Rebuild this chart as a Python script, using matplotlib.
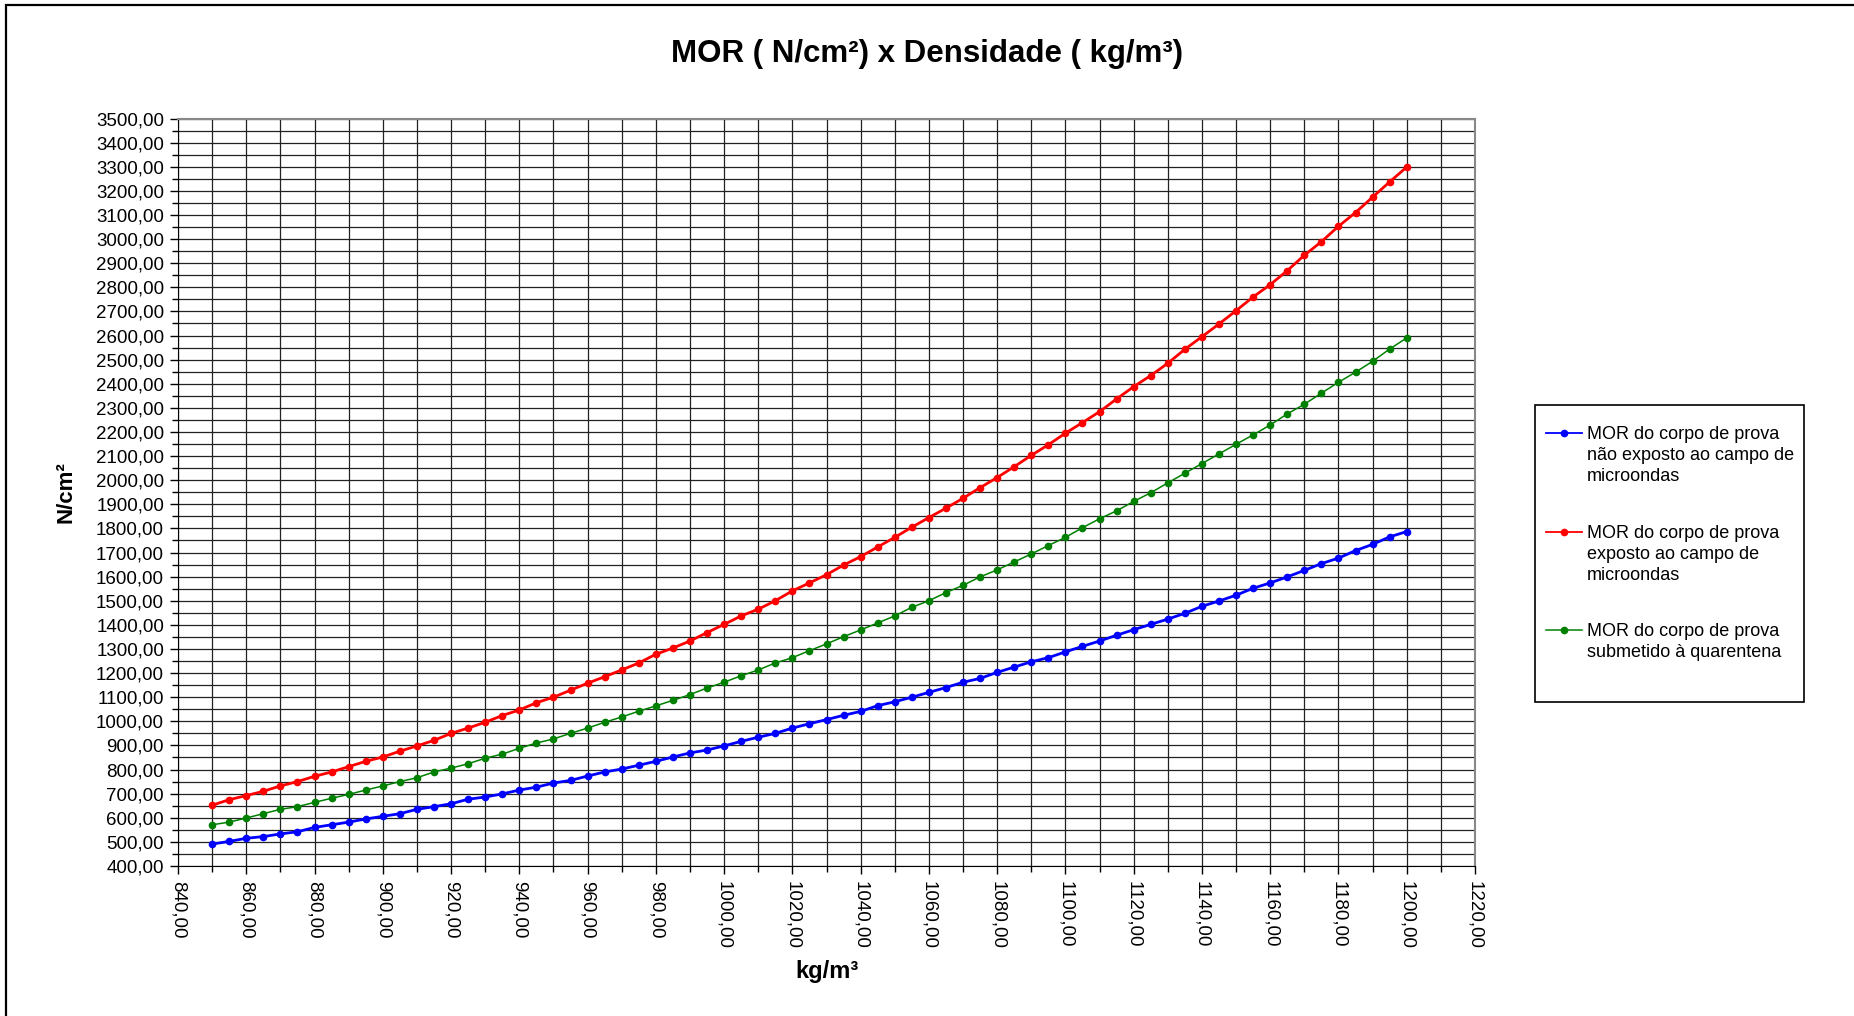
import matplotlib
matplotlib.use("Agg")
import matplotlib.pyplot as plt
from matplotlib.patches import Rectangle
from matplotlib.lines import Line2D
from matplotlib.ticker import MultipleLocator, FuncFormatter

# --- data ---
densidade = list(range(850, 1201, 5))  # kg/m3

mor_nao_exposto = [
    491, 502, 515, 522, 533, 542, 560, 571, 582, 595,
    606, 617, 635, 646, 658, 677, 686, 699, 715, 727,
    744, 755, 773, 790, 802, 818, 834, 852, 869, 881,
    898, 917, 934, 950, 972, 990, 1007, 1025, 1041, 1065,
    1081, 1100, 1120, 1140, 1162, 1178, 1203, 1225, 1247, 1264,
    1288, 1311, 1333, 1357, 1380, 1402, 1424, 1448, 1477, 1499,
    1523, 1552, 1574, 1599, 1626, 1654, 1677, 1708, 1734, 1765,
    1787,
]

mor_exposto = [
    652, 675, 692, 710, 732, 750, 772, 790, 812, 834,
    852, 876, 898, 921, 950, 972, 996, 1024, 1047, 1077,
    1100, 1129, 1158, 1185, 1213, 1242, 1278, 1304, 1333, 1368,
    1402, 1437, 1465, 1500, 1541, 1574, 1608, 1648, 1683, 1723,
    1763, 1805, 1845, 1884, 1925, 1969, 2011, 2056, 2103, 2147,
    2195, 2239, 2284, 2337, 2388, 2434, 2485, 2543, 2595, 2648,
    2703, 2760, 2811, 2869, 2933, 2989, 3053, 3110, 3174, 3237,
    3299,
]

mor_quarentena = [
    571, 582, 599, 617, 635, 646, 664, 681, 697, 715,
    732, 750, 766, 790, 806, 824, 847, 864, 888, 910,
    927, 950, 972, 996, 1018, 1042, 1064, 1087, 1111, 1138,
    1162, 1189, 1213, 1242, 1264, 1293, 1321, 1351, 1379, 1408,
    1437, 1473, 1500, 1534, 1564, 1599, 1628, 1661, 1694, 1729,
    1763, 1803, 1840, 1873, 1912, 1948, 1989, 2029, 2069, 2109,
    2149, 2188, 2229, 2275, 2315, 2361, 2406, 2448, 2493, 2544,
    2590,
]

labels = [
    "MOR do corpo de prova\nnão exposto ao campo de\nmicroondas",
    "MOR do corpo de prova\nexposto ao campo de\nmicroondas",
    "MOR do corpo de prova\nsubmetido à quarentena",
]
cores = ['#0000ff', '#ff0000', '#008000']
larguras = [2.0, 2.0, 1.1]

plt.rcParams['font.family'] = ['Liberation Sans', 'DejaVu Sans']

W, H = 1854, 1016
fig = plt.figure(figsize=(W / 100, H / 100), dpi=100)
ax = fig.add_axes([178 / W, 1 - 866 / H, (1475 - 178) / W, (866 - 118.5) / H])

# outer chart frame (only left/top visible in the reference)
fig.patches.append(Rectangle((6 / W, -0.05), 1.2, 1.05 - 4.5 / H, transform=fig.transFigure,
                             fill=False, edgecolor='black', lw=1.6))

series = [mor_nao_exposto, mor_exposto, mor_quarentena]
for vals, c, lw in zip(series, cores, larguras):
    ax.plot(densidade, vals, color=c, lw=lw, marker='o', ms=4.5)

ax.set_xlim(840, 1220)
ax.set_ylim(400, 3500)
ax.xaxis.set_major_locator(MultipleLocator(20))
ax.xaxis.set_minor_locator(MultipleLocator(10))
ax.yaxis.set_major_locator(MultipleLocator(100))
ax.yaxis.set_minor_locator(MultipleLocator(50))
fmt = FuncFormatter(lambda v, p: f"{v:.2f}".replace('.', ','))
ax.xaxis.set_major_formatter(fmt)
ax.yaxis.set_major_formatter(fmt)

ax.grid(which='both', color='#222222', lw=0.9)
ax.set_axisbelow(True)
ax.tick_params(which='major', length=6, width=1, labelsize=13.5, color='black')
ax.tick_params(which='minor', length=4, width=1, color='black')
ax.tick_params(axis='x', labelrotation=-90, pad=5)
ax.tick_params(axis='y', pad=4)
for s in ['top', 'right']:
    ax.spines[s].set_color('#888888')
    ax.spines[s].set_linewidth(1.5)
for s in ['left', 'bottom']:
    ax.spines[s].set_color('black')

fig.text(0.5, 1 - 54 / H, "MOR ( N/cm²) x Densidade ( kg/m³)", ha='center', va='center',
         fontsize=22.5, fontweight='bold')
ax.set_xlabel("kg/m³", fontsize=17, fontweight='bold', labelpad=8)
ax.set_ylabel("N/cm²", fontsize=16, fontweight='bold', labelpad=14)

# legend box drawn by hand so the handle sits on the first text line, as in Excel
fig.patches.append(Rectangle((1535 / W, 1 - 702 / H), (1804 - 1535) / W, (702 - 405) / H,
                             transform=fig.transFigure, fill=False, edgecolor='black', lw=1.2))
first_line_y = [433, 532, 630]
for lab, c, lw, yy in zip(labels, cores, larguras, first_line_y):
    fy = 1 - yy / H
    fig.lines.append(Line2D([1546 / W, 1582 / W], [fy, fy], transform=fig.transFigure,
                            color=c, lw=min(lw, 1.3)))
    fig.lines.append(Line2D([1564 / W], [fy], transform=fig.transFigure, color=c,
                            marker='o', ms=4.5, lw=0))
    fig.text(1587 / W, fy + 7 / H, lab, ha='left', va='top', fontsize=13,
             linespacing=1.3)

fig.savefig("out.png", dpi=100, facecolor='white')
